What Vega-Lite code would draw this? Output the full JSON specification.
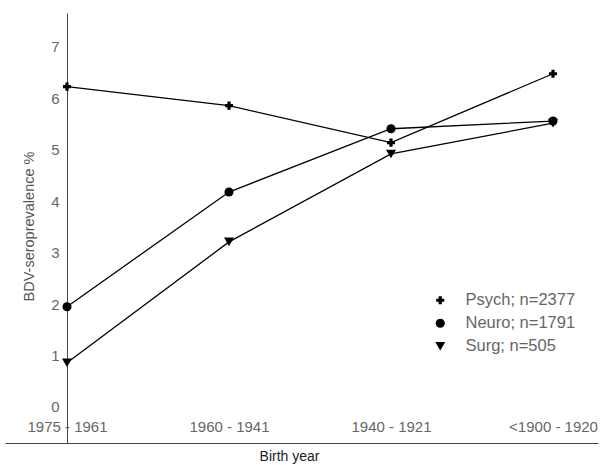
{
  "$schema": "https://vega.github.io/schema/vega-lite/v6.json",
  "width": 593,
  "height": 430,
  "autosize": {"type": "none"},
  "padding": {"left": 5, "right": 3, "top": 13, "bottom": 22},
  "background": "white",
  "config": {
    "view": {"stroke": null},
    "font": "Liberation Sans",
    "legend": {
      "orient": "none",
      "legendX": 427,
      "legendY": 279,
      "padding": 0,
      "rowPadding": 6,
      "labelOffset": 17,
      "labelFontSize": 16.5,
      "labelColor": "#666",
      "labelFont": "Liberation Sans",
      "symbolFillColor": "black",
      "symbolStrokeColor": "black",
      "symbolStrokeWidth": 0
    }
  },
  "data": {
    "values": [
      {"group": "Psych; n=2377", "birth": "1975 - 1961", "value": 6.23},
      {"group": "Psych; n=2377", "birth": "1960 - 1941", "value": 5.86},
      {"group": "Psych; n=2377", "birth": "1940 - 1921", "value": 5.14},
      {"group": "Psych; n=2377", "birth": "<1900 - 1920", "value": 6.48},
      {"group": "Neuro; n=1791", "birth": "1975 - 1961", "value": 1.95},
      {"group": "Neuro; n=1791", "birth": "1960 - 1941", "value": 4.18},
      {"group": "Neuro; n=1791", "birth": "1940 - 1921", "value": 5.41},
      {"group": "Neuro; n=1791", "birth": "<1900 - 1920", "value": 5.56},
      {"group": "Surg; n=505", "birth": "1975 - 1961", "value": 0.86},
      {"group": "Surg; n=505", "birth": "1960 - 1941", "value": 3.21},
      {"group": "Surg; n=505", "birth": "1940 - 1921", "value": 4.92},
      {"group": "Surg; n=505", "birth": "<1900 - 1920", "value": 5.52}
    ]
  },
  "encoding": {
    "x": {
      "field": "birth",
      "type": "ordinal",
      "sort": ["1975 - 1961", "1960 - 1941", "1940 - 1921", "<1900 - 1920"],
      "scale": {"type": "point", "padding": 0.33025, "align": 0.5794},
      "axis": {
        "title": "Birth year",
        "titleFont": "Liberation Sans",
        "titleFontSize": 14,
        "titleFontWeight": "normal",
        "titleColor": "#222",
        "titleX": 284,
        "titleY": 13,
        "titleBaseline": "middle",
        "titleAlign": "center",
        "labelAngle": 0,
        "labelAlign": "center",
        "labelBaseline": "middle",
        "labelPadding": -17,
        "labelFontSize": 15,
        "labelColor": "#666",
        "labelFont": "Liberation Sans",
        "labelOverlap": false,
        "labelFlush": false,
        "ticks": false,
        "domain": true,
        "domainColor": "#444",
        "domainWidth": 1,
        "grid": false
      }
    },
    "y": {
      "field": "value",
      "type": "quantitative",
      "scale": {"domain": [-0.7, 7.661], "nice": false, "zero": false},
      "axis": {
        "title": "BDV-seroprevalence %",
        "titleFont": "Liberation Sans",
        "titleFontSize": 14.5,
        "titleFontWeight": "normal",
        "titleColor": "#555",
        "titleX": -38,
        "titleY": 213,
        "titleAngle": -90,
        "titleBaseline": "middle",
        "titleAlign": "center",
        "offset": -62,
        "values": [0, 1, 2, 3, 4, 5, 6, 7],
        "labelFontSize": 15,
        "labelColor": "#666",
        "labelFont": "Liberation Sans",
        "labelPadding": 8,
        "ticks": false,
        "domain": true,
        "domainColor": "#444",
        "domainWidth": 1,
        "grid": false
      }
    }
  },
  "layer": [
    {
      "mark": {"type": "line", "color": "black", "strokeWidth": 1.3},
      "encoding": {"detail": {"field": "group"}}
    },
    {
      "mark": {"type": "point", "filled": true, "opacity": 1, "color": "black"},
      "encoding": {
        "shape": {
          "field": "group",
          "type": "nominal",
          "title": null,
          "scale": {
            "domain": ["Psych; n=2377", "Neuro; n=1791", "Surg; n=505"],
            "range": ["cross", "circle", "triangle-down"]
          }
        },
        "size": {
          "field": "group",
          "type": "nominal",
          "title": null,
          "scale": {
            "domain": ["Psych; n=2377", "Neuro; n=1791", "Surg; n=505"],
            "range": [65, 100, 50]
          }
        }
      }
    }
  ]
}
